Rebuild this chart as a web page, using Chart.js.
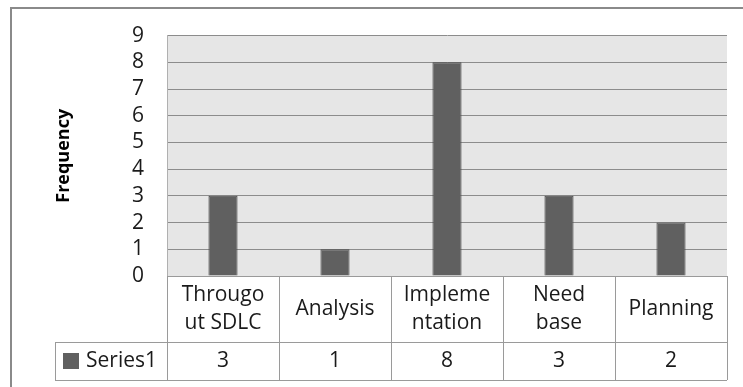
<!DOCTYPE html>
<html>
<head>
<meta charset="utf-8">
<script src="https://cdn.jsdelivr.net/npm/chart.js@4/dist/chart.umd.min.js"></script>
<style>
	html, body { margin: 0; padding: 0; background: #fff; }
	#wrap { width: 743px; height: 387px; position: relative; }
</style>
</head>
<body>
<div id="wrap"><canvas id="myChart"></canvas></div>
<script>
const categories = [['Througo', 'ut SDLC'], ['Analysis'], ['Impleme', 'ntation'], ['Need', 'base'], ['Planning']];
const seriesName = 'Series1';
const series1 = [3, 1, 8, 3, 2];
const yMin = 0;
const yMax = 9;

const FONT = '"Open Sans", "Liberation Sans", sans-serif';
const LINE = '#9a9a9a';
const TEXT = '#1a1a1a';
const CAT_ROW = 66;
const VAL_ROW = 38;
const LABEL_LEFT = 55;

// grey plot area + outer frame
const backgroundPlugin = {
	id: 'background',
	beforeDraw(chart) {
		const ctx = chart.ctx;
		const a = chart.chartArea;
		ctx.save();
		ctx.strokeStyle = '#8a8a8a';
		ctx.lineWidth = 2;
		ctx.strokeRect(11, 8, 800, 450);
		ctx.fillStyle = '#e6e6e6';
		ctx.fillRect(a.left, a.top, a.right - a.left, a.bottom - a.top);
		ctx.restore();
	}
};

// data table under the plot
const tablePlugin = {
	id: 'dataTable',
	afterDraw(chart) {
		const ctx = chart.ctx;
		const a = chart.chartArea;
		const x = chart.scales.x;
		const step = x.getPixelForValue(1) - x.getPixelForValue(0);
		const top = a.bottom;
		const mid = top + CAT_ROW;
		const bottom = mid + VAL_ROW;

		ctx.save();
		ctx.strokeStyle = LINE;
		ctx.lineWidth = 1;
		ctx.beginPath();
		ctx.moveTo(a.left, top + 0.5); ctx.lineTo(a.right, top + 0.5);
		ctx.moveTo(LABEL_LEFT, mid + 0.5); ctx.lineTo(a.right, mid + 0.5);
		ctx.moveTo(LABEL_LEFT, bottom + 0.5); ctx.lineTo(a.right, bottom + 0.5);
		ctx.moveTo(LABEL_LEFT + 0.5, mid); ctx.lineTo(LABEL_LEFT + 0.5, bottom);
		for (let i = 0; i <= categories.length; i++) {
			const px = Math.round(x.getPixelForValue(0) - step / 2 + i * step) + 0.5;
			ctx.moveTo(px, top); ctx.lineTo(px, bottom);
		}
		ctx.stroke();

		ctx.fillStyle = TEXT;
		ctx.font = '21px ' + FONT;
		ctx.textAlign = 'center';
		ctx.textBaseline = 'middle';
		const lh = 28;
		categories.forEach((lines, i) => {
			const cx = x.getPixelForValue(i);
			const y0 = top + CAT_ROW / 2 - (lines.length - 1) * lh / 2;
			lines.forEach((t, j) => ctx.fillText(t, cx, y0 + j * lh));
			ctx.fillText(String(series1[i]), cx, mid + VAL_ROW / 2);
		});

		ctx.fillStyle = '#606060';
		ctx.fillRect(63, mid + 11, 16, 16);
		ctx.fillStyle = TEXT;
		ctx.textAlign = 'left';
		ctx.fillText(seriesName, 86, mid + VAL_ROW / 2);
		ctx.restore();
	}
};

new Chart(document.getElementById('myChart'), {
	type: 'bar',
	data: {
		labels: categories,
		datasets: [{
			label: seriesName,
			data: series1,
			backgroundColor: '#606060',
			borderColor: '#4a4a4a',
			borderWidth: 1,
			categoryPercentage: 1,
			barPercentage: 0.26
		}]
	},
	options: {
		responsive: true,
		maintainAspectRatio: false,
		animation: false,
		layout: { padding: { left: 0, top: 35, right: 16, bottom: 111 } },
		plugins: {
			legend: { display: false },
			tooltip: { enabled: false }
		},
		scales: {
			x: { display: false },
			y: {
				min: yMin,
				max: yMax,
				afterFit(scale) { scale.width = 167; },
				ticks: {
					stepSize: 1,
					autoSkip: false,
					padding: 23,
					color: TEXT,
					font: { family: FONT, size: 21 }
				},
				grid: { color: '#8c8c8c', lineWidth: 1, drawTicks: false },
				border: { display: true, color: '#b0b0b0' },
				title: {
					display: true,
					text: 'Frequency',
					color: '#000',
					font: { family: FONT, size: 18, weight: 'bold' },
					padding: { top: 53, bottom: 0 }
				}
			}
		}
	},
	plugins: [backgroundPlugin, tablePlugin]
});
</script>
</body>
</html>
